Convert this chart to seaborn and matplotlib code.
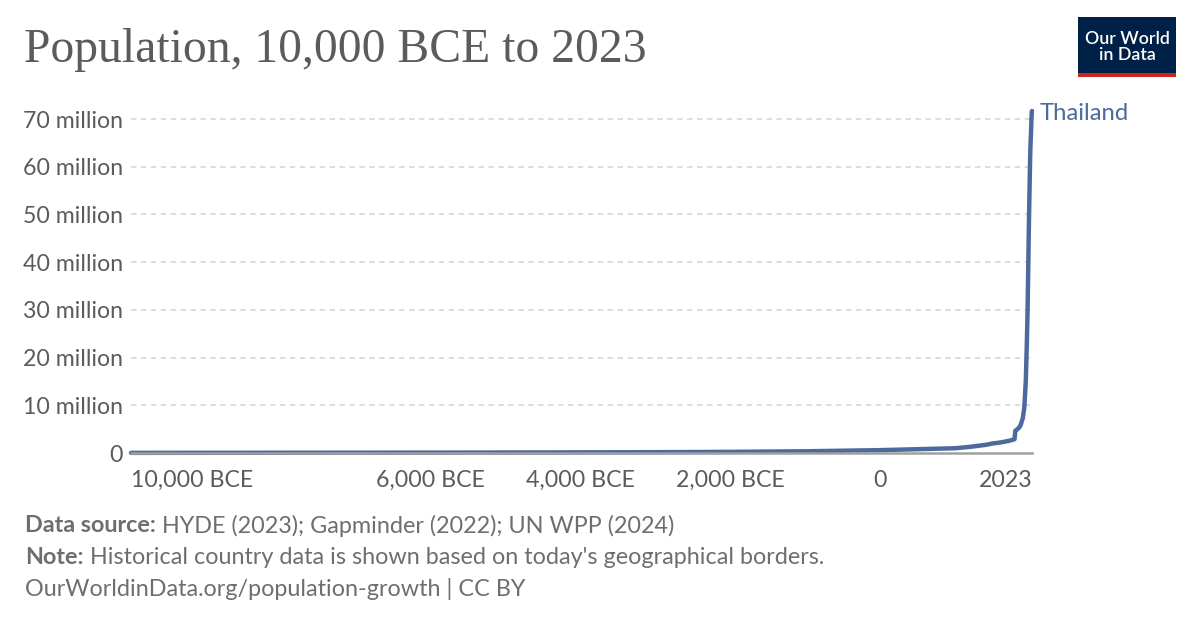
import matplotlib
matplotlib.use("Agg")
import matplotlib.pyplot as plt
import seaborn as sns
import pandas as pd
from matplotlib.patches import Rectangle

# ---- data ----
years = [-10000, -8000, -6000, -5000, -4000, -3000, -2000, -1000, 0, 500, 1000,
         1200, 1400, 1500, 1600, 1700, 1750, 1790, 1800, 1820, 1850, 1870, 1900,
         1920, 1940, 1950, 1955, 1960, 1965, 1970, 1975, 1980, 1985, 1990, 1995,
         2000, 2005, 2010, 2015, 2020, 2023]
population_millions = [0.03, 0.05, 0.08, 0.10, 0.13, 0.17, 0.24, 0.36, 0.6, 0.8, 1.0,
                       1.3, 1.7, 2.0, 2.2, 2.5, 2.7, 2.9, 4.67, 4.9, 5.3, 5.8, 7.3,
                       9.5, 15.0, 20.6, 23.6, 27.0, 31.0, 35.8, 41.0, 46.3, 50.9, 55.2, 59.3,
                       63.1, 65.4, 67.2, 69.7, 71.5, 71.7]
country = "Thailand"
x_ticks = [-10000, -6000, -4000, -2000, 0, 2023]
x_tick_labels = ["10,000 BCE", "6,000 BCE", "4,000 BCE", "2,000 BCE", "0", "2023"]
y_ticks = [0, 10, 20, 30, 40, 50, 60, 70]
y_tick_labels = ["0"] + [f"{v} million" for v in y_ticks[1:]]

title = "Population, 10,000 BCE to 2023"
source_bold = "Data source:"
source_text = " HYDE (2023); Gapminder (2022); UN WPP (2024)"
note_bold = "Note:"
note_text = " Historical country data is shown based on today's geographical borders."
url_text = "OurWorldinData.org/population-growth | CC BY"

df = pd.DataFrame({"year": years, "pop": [p * 1e6 for p in population_millions]})

# ---- style ----
sns.set_theme(style="white")
plt.rcParams["font.family"] = ["Lato", "DejaVu Sans"]

LINE = "#4c6a9c"
TXT = "#5b5b5b"
FOOT = "#6e6e6e"
GRID = "#dadada"
TICK_FS = 16.7
FOOT_FS = 16.8

fig = plt.figure(figsize=(12, 6.28), dpi=100)
W, H = 1200, 628
ax_left, ax_right = 131, 1032
ax_bottom_px = 453
ymax = 72e6
ax_top_px = ax_bottom_px - (ymax / 10e6) * 47.7
ax = fig.add_axes([ax_left / W, 1 - ax_bottom_px / H,
                   (ax_right - ax_left) / W, (ax_bottom_px - ax_top_px) / H])

sns.lineplot(data=df, x="year", y="pop", ax=ax, color=LINE, linewidth=3.2,
             clip_on=False, legend=False, solid_capstyle="round")

ax.set_xlim(-10000, 2023)
ax.set_ylim(0, ymax)

# gridlines
for v in y_ticks[1:]:
    ax.axhline(v * 1e6, color=GRID, linewidth=1.3, linestyle=(0, (3, 2.5)), zorder=0)

ax.set_yticks([v * 1e6 for v in y_ticks])
ax.set_yticklabels(y_tick_labels)
ax.set_xticks(x_ticks)
ax.set_xticklabels(x_tick_labels)
ax.set_xlabel("")
ax.set_ylabel("")

for s in ["top", "right", "left"]:
    ax.spines[s].set_visible(False)
ax.spines["bottom"].set_color("#a0a0a0")
ax.spines["bottom"].set_linewidth(1.8)

ax.tick_params(axis="y", length=0, pad=6, labelsize=TICK_FS, labelcolor=TXT)
ax.tick_params(axis="x", length=6, width=1.5, color="#a0a0a0", pad=6,
               labelsize=TICK_FS, labelcolor=TXT, direction="out")
xl = ax.get_xticklabels()
xl[0].set_ha("left")
xl[-1].set_ha("right")

# end label
fig.text(1040 / W, 1 - 114 / H, country, color=LINE,
         fontsize=17.2, va="center", ha="left")

# title
fig.text(24 / W, 1 - 50 / H, title, fontsize=34.3, color=TXT,
         family=["Liberation Serif", "DejaVu Serif"], va="center", ha="left")

# footer
def rich_line(y_px, bold, normal):
    t = fig.text(25 / W, 1 - y_px / H, bold, fontsize=FOOT_FS, color=FOOT,
                 fontweight="bold", va="center", ha="left")
    fig.canvas.draw()
    bb = t.get_window_extent()
    fig.text(bb.x1 / W, 1 - y_px / H, normal, fontsize=FOOT_FS, color=FOOT,
             va="center", ha="left")

rich_line(526, source_bold, source_text)
rich_line(557, note_bold, note_text)
fig.text(25 / W, 1 - 589 / H, url_text, fontsize=FOOT_FS, color=FOOT,
         va="center", ha="left")

# logo
lx0, ly0, lx1, ly1 = 1078, 17, 1176, 77
fig.patches.append(Rectangle((lx0 / W, 1 - ly1 / H), (lx1 - lx0) / W, (ly1 - ly0) / H,
                             transform=fig.transFigure, facecolor="#002147",
                             edgecolor="none", zorder=5))
fig.patches.append(Rectangle((lx0 / W, 1 - ly1 / H), (lx1 - lx0) / W, 4 / H,
                             transform=fig.transFigure, facecolor="#ce261e",
                             edgecolor="none", zorder=6))
fig.text((lx0 + lx1) / 2 / W, 1 - 47 / H, "Our World\nin Data", color="white",
         fontsize=12.8, ha="center", va="center", linespacing=1.0, zorder=7,
         fontweight="semibold")

fig.savefig("out.png", dpi=100, facecolor="white")
